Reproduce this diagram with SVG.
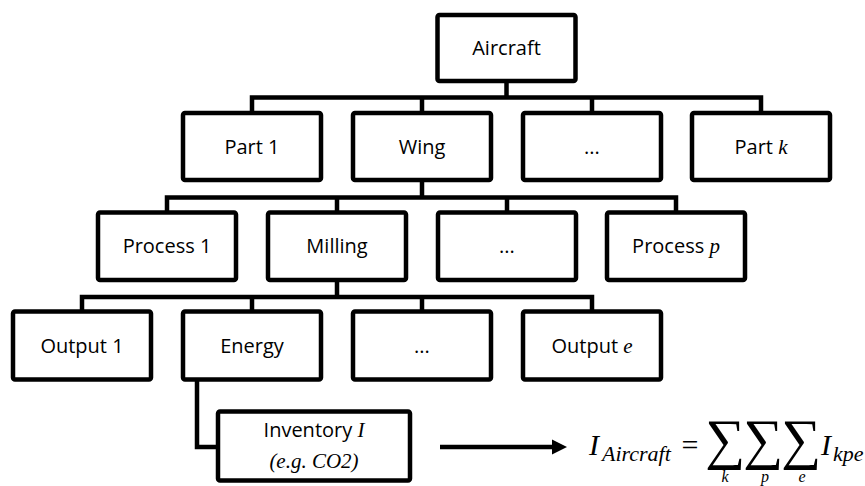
<svg xmlns="http://www.w3.org/2000/svg" width="865" height="486" viewBox="0 0 865 486">
<style>
  .box{fill:#fff;stroke:#000;stroke-width:4.5;stroke-linejoin:round}
  .con{fill:none;stroke:#000;stroke-width:4.5;stroke-linejoin:miter}
  .lbl{font-family:"Open Sans","Liberation Sans",sans-serif;font-size:20px;fill:#000;text-anchor:middle}
  .m{font-family:"Liberation Serif","DejaVu Serif",serif;font-style:italic;font-size:21px}
  .math{font-family:"Liberation Serif","DejaVu Serif",serif;font-style:italic;fill:#000}
  .sum{font-family:"Liberation Serif","DejaVu Serif",serif;fill:#000;text-anchor:middle}
</style>
<g id="connectors">
  <path class="con" d="M506.5 81V97.5M252 114V97.5H761V114M422 97.5V114M592 97.5V114"/>
  <path class="con" d="M422 180V197.5M167 214V197.5H676V214M337 197.5V214M507 197.5V214"/>
  <path class="con" d="M337 280V297M82 313V297H592V313M252 297V313M422 297V313"/>
  <path class="con" d="M197 379V447H218"/>
  <line class="con" x1="440" y1="447" x2="554" y2="447"/>
  <polygon points="552,439.5 567,447 552,454.5" fill="#000"/>
</g>
<g id="n-aircraft"><rect class="box" x="437.5" y="15" width="138" height="66" rx="2"/><text class="lbl" x="506.5" y="55">Aircraft</text></g>
<g id="n-part1"><rect class="box" x="183" y="113" width="138" height="67" rx="2"/><text class="lbl" x="252" y="154">Part 1</text></g>
<g id="n-wing"><rect class="box" x="353" y="113" width="138" height="67" rx="2"/><text class="lbl" x="422" y="154">Wing</text></g>
<g id="n-part-dots"><rect class="box" x="523" y="113" width="138" height="67" rx="2"/><text class="lbl" x="592" y="154">...</text></g>
<g id="n-partk"><rect class="box" x="692" y="113" width="138" height="67" rx="2"/><text class="lbl" x="761" y="154">Part <tspan class="m">k</tspan></text></g>
<g id="n-process1"><rect class="box" x="98" y="212.5" width="138" height="67.5" rx="2"/><text class="lbl" x="167" y="253">Process 1</text></g>
<g id="n-milling"><rect class="box" x="268" y="212.5" width="138" height="67.5" rx="2"/><text class="lbl" x="337" y="253">Milling</text></g>
<g id="n-process-dots"><rect class="box" x="438" y="212.5" width="138" height="67.5" rx="2"/><text class="lbl" x="507" y="253">...</text></g>
<g id="n-processp"><rect class="box" x="607" y="212.5" width="138" height="67.5" rx="2"/><text class="lbl" x="676" y="253">Process <tspan class="m">p</tspan></text></g>
<g id="n-output1"><rect class="box" x="13" y="311.5" width="138" height="68" rx="2"/><text class="lbl" x="82" y="353">Output 1</text></g>
<g id="n-energy"><rect class="box" x="183" y="311.5" width="138" height="68" rx="2"/><text class="lbl" x="252" y="353">Energy</text></g>
<g id="n-output-dots"><rect class="box" x="353" y="311.5" width="138" height="68" rx="2"/><text class="lbl" x="422" y="353">...</text></g>
<g id="n-outpute"><rect class="box" x="523" y="311.5" width="138" height="68" rx="2"/><text class="lbl" x="592" y="353">Output <tspan class="m">e</tspan></text></g>
<g id="n-inventory"><rect class="box" x="218" y="411.5" width="192" height="69" rx="2"/><text class="lbl" x="314" y="437">Inventory <tspan class="m">I</tspan></text><text class="math" x="314" y="468" font-size="21" text-anchor="middle">(e.g. CO2)</text></g>
<g id="formula">
  <text class="math" x="589" y="455" font-size="30">I</text>
  <text class="math" x="602" y="461" font-size="22">Aircraft</text>
  <text class="sum" x="690" y="455" font-size="30">=</text>
  <text class="sum" x="725" y="458" font-size="56">∑</text>
  <text class="sum" x="763" y="458" font-size="56">∑</text>
  <text class="sum" x="801" y="458" font-size="56">∑</text>
  <text class="math" x="821" y="455" font-size="30">I</text>
  <text class="math" x="833" y="461" font-size="22">kpe</text>
  <text class="math" x="725" y="482" font-size="16" text-anchor="middle">k</text>
  <text class="math" x="765" y="482" font-size="16" text-anchor="middle">p</text>
  <text class="math" x="802" y="482" font-size="16" text-anchor="middle">e</text>
</g>
</svg>
